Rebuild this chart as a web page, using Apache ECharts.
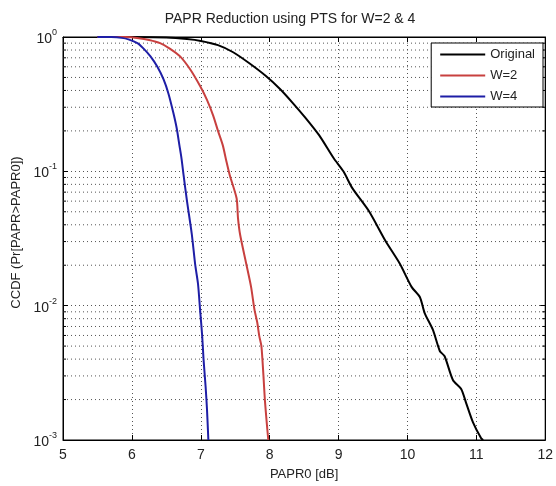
<!DOCTYPE html>
<html>
<head>
<meta charset="utf-8">
<script src="https://cdn.jsdelivr.net/npm/echarts@6/dist/echarts.min.js"></script>
<style>html,body{margin:0;padding:0;background:#fff;}#c{width:556px;height:486px;}</style>
</head>
<body>
<div id="c"></div>
<script>
const titleText = 'PAPR Reduction using PTS for W=2 & 4';
const xName = 'PAPR0 [dB]';
const yName = 'CCDF (Pr[PAPR>PAPR0])';
const seriesNames = ['Original', 'W=2', 'W=4'];
const xMin = 5, xMax = 12, xStep = 1;
const yMin = 0.001, yMax = 1;
const decadeStarts = [0.001, 0.01, 0.1];
const minorMultipliers = [2, 3, 4, 5, 6, 7, 8, 9];

const origX = [5.5, 6.0, 6.5, 6.8, 7.0, 7.25, 7.47, 7.7, 7.95, 8.15, 8.33, 8.52, 8.72, 8.93, 9.07, 9.2, 9.44, 9.68, 9.89, 10.06, 10.18, 10.25, 10.37, 10.47, 10.54, 10.66, 10.78, 10.85, 10.95, 11.07, 11.1];
const origY = [1, 0.999, 0.99, 0.965, 0.935, 0.87, 0.77, 0.64, 0.51, 0.41, 0.325, 0.25, 0.185, 0.125, 0.1, 0.075, 0.0506, 0.0304, 0.0205, 0.0138, 0.0116, 0.0088, 0.0066, 0.0046, 0.0042, 0.0028, 0.0024, 0.0019, 0.00136, 0.00103, 0.001];

const w2X = [5.5, 5.9, 6.1, 6.25, 6.41, 6.55, 6.7, 6.85, 6.99, 7.09, 7.18, 7.25, 7.32, 7.37, 7.42, 7.52, 7.54, 7.57, 7.66, 7.73, 7.78, 7.82, 7.85, 7.88, 7.91, 7.93, 7.96, 7.98];
const w2Y = [1, 0.998, 0.98, 0.95, 0.9, 0.82, 0.717, 0.57, 0.431, 0.34, 0.26, 0.2, 0.156, 0.12, 0.094, 0.063, 0.045, 0.034, 0.0205, 0.0138, 0.0093, 0.0075, 0.0059, 0.005, 0.003, 0.002, 0.0013, 0.001];

const w4X = [5.5, 5.7, 5.85, 5.95, 6.08, 6.17, 6.27, 6.37, 6.46, 6.53, 6.6, 6.65, 6.69, 6.72, 6.75, 6.8, 6.87, 6.92, 6.96, 6.99, 7.02, 7.04, 7.07, 7.09, 7.11];
const w4Y = [1, 0.998, 0.985, 0.96, 0.9, 0.82, 0.717, 0.6, 0.483, 0.38, 0.275, 0.21, 0.156, 0.125, 0.094, 0.06, 0.034, 0.02, 0.0145, 0.0093, 0.006, 0.004, 0.0025, 0.0017, 0.001];

const colors = ['#000000', '#c8403f', '#1e1ea6'];

const zip = (xs, ys) => xs.map((x, i) => [x, ys[i]]);
const minorVals = [];
decadeStarts.forEach(d => minorMultipliers.forEach(m => minorVals.push([xMin, +(d * m).toPrecision(3)])));

const font = 'Liberation Sans, Arial, Helvetica, sans-serif';
const chart = echarts.init(document.getElementById('c'), null, {renderer: 'canvas'});

const gridDot = {color: '#555', width: 1, type: [1, 3]};

chart.setOption({
  animation: false,
  backgroundColor: '#fff',
  color: colors,
  title: {
    text: titleText, left: 285, top: 7, textAlign: 'center',
    textStyle: {fontFamily: font, fontSize: 14, fontWeight: 'normal', color: '#222'}
  },
  legend: {
    data: seriesNames, orient: 'vertical', right: 13, top: 43,
    icon: 'rect',
    backgroundColor: '#fff', borderColor: '#000', borderWidth: 1,
    padding: [4, 8, 3, 9], itemWidth: 45, itemHeight: 2, itemGap: 6,
    textStyle: {fontFamily: font, fontSize: 13, color: '#222', lineHeight: 15}
  },
  grid: {left: 63, right: 8, top: 37, bottom: 41, show: true, borderColor: '#000', borderWidth: 1, backgroundColor: 'transparent'},
  xAxis: [{
    type: 'value', min: xMin, max: xMax, interval: xStep,
    name: xName, nameLocation: 'middle', nameGap: 28,
    nameTextStyle: {fontFamily: font, fontSize: 13, color: '#222'},
    axisLine: {show: true, lineStyle: {color: '#000'}},
    axisTick: {show: true, inside: true, length: 5, lineStyle: {color: '#000'}},
    axisLabel: {fontFamily: font, fontSize: 14, color: '#222', margin: 8},
    splitLine: {show: true, lineStyle: gridDot}
  }, {
    type: 'value', min: xMin, max: xMax, interval: xStep, position: 'top',
    axisLine: {show: true, lineStyle: {color: '#000'}},
    axisTick: {show: true, inside: true, length: 5, lineStyle: {color: '#000'}},
    axisLabel: {show: false}, splitLine: {show: false}
  }],
  yAxis: [{
    type: 'log', logBase: 10, min: yMin, max: yMax,
    name: yName, nameLocation: 'middle', nameGap: 40,
    nameTextStyle: {fontFamily: font, fontSize: 13, color: '#222', padding: [0, 0, 0, 12]},
    axisLine: {show: true, lineStyle: {color: '#000'}},
    axisTick: {show: true, inside: true, length: 5, lineStyle: {color: '#000'}},
    axisLabel: {
      margin: 6,
      formatter: v => '{b|10}{s|' + Math.round(Math.log10(v)) + '}',
      rich: {
        b: {fontFamily: font, fontSize: 14, color: '#222', lineHeight: 18, verticalAlign: 'bottom'},
        s: {fontFamily: font, fontSize: 9, color: '#222', lineHeight: 10, verticalAlign: 'top'}
      }
    },
    splitLine: {show: true, lineStyle: gridDot}
  }, {
    type: 'log', logBase: 10, min: yMin, max: yMax, position: 'right',
    axisLine: {show: true, lineStyle: {color: '#000'}},
    axisTick: {show: true, inside: true, length: 5, lineStyle: {color: '#000'}},
    axisLabel: {show: false}, splitLine: {show: false}
  }],
  series: [{
    type: 'custom', name: 'minor', silent: true, z: 1,
    xAxisIndex: 0, yAxisIndex: 0,
    data: minorVals,
    renderItem: (params, api) => {
      const v = api.value(1);
      const p0 = api.coord([xMin, v]);
      const p1 = api.coord([xMax, v]);
      return {type: 'group', children: [
        {type: 'line', shape: {x1: p0[0], y1: p0[1], x2: p1[0], y2: p1[1]}, style: {stroke: '#555', lineWidth: 1, lineDash: [1, 3]}},
        {type: 'line', shape: {x1: p0[0], y1: p0[1], x2: p0[0] + 3, y2: p0[1]}, style: {stroke: '#000', lineWidth: 1}},
        {type: 'line', shape: {x1: p1[0] - 3, y1: p1[1], x2: p1[0], y2: p1[1]}, style: {stroke: '#000', lineWidth: 1}}
      ]};
    }
  }, {
    type: 'line', name: seriesNames[0], data: zip(origX, origY), symbol: 'none', z: 3, smooth: 0.25,
    lineStyle: {width: 2, color: colors[0]}, itemStyle: {color: colors[0]}
  }, {
    type: 'line', name: seriesNames[1], data: zip(w2X, w2Y), symbol: 'none', z: 3, smooth: 0.25,
    lineStyle: {width: 2, color: colors[1]}, itemStyle: {color: colors[1]}
  }, {
    type: 'line', name: seriesNames[2], data: zip(w4X, w4Y), symbol: 'none', z: 3, smooth: 0.25,
    lineStyle: {width: 2, color: colors[2]}, itemStyle: {color: colors[2]}
  }]
});
</script>
</body>
</html>
